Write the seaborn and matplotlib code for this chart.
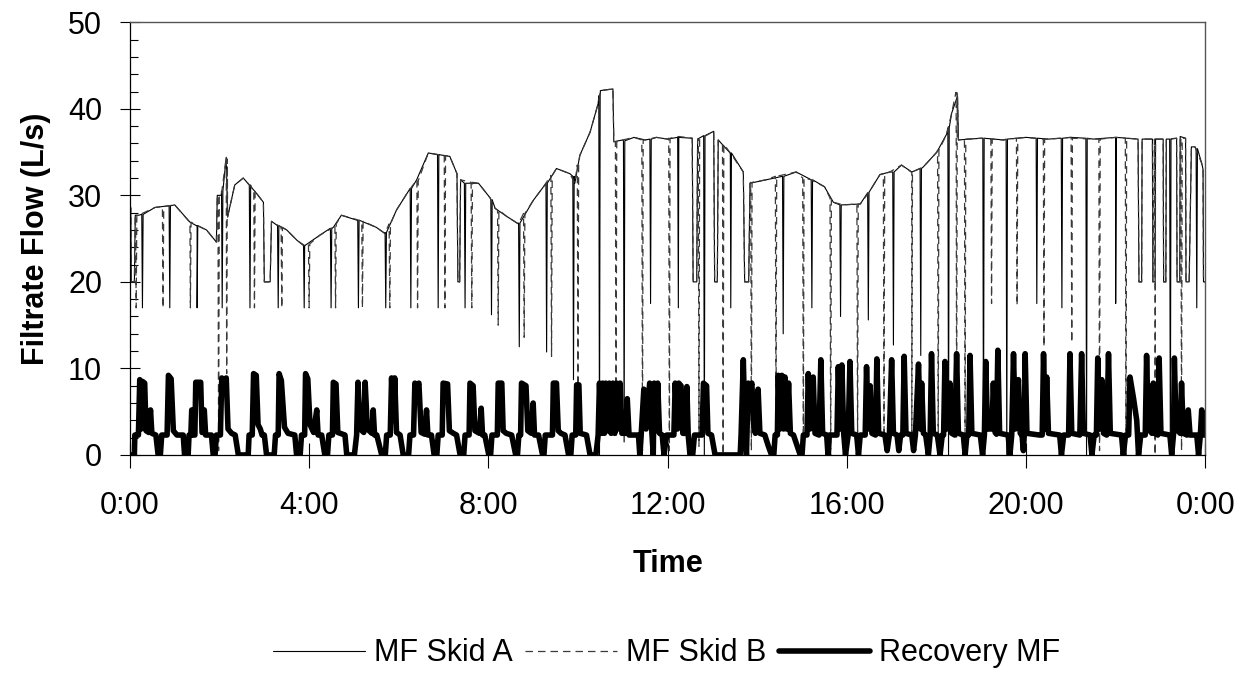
import matplotlib
matplotlib.use('Agg')
import matplotlib.pyplot as plt
from matplotlib.ticker import MultipleLocator, FixedLocator, FuncFormatter
import seaborn as sns
import pandas as pd

# hours since midnight, flow in L/s

# common filtrate curve followed by both MF skids (hour, flow)
filtrate_base = [
    (0.00, 28.9), (0.02, 28.5), (0.03, 20.0), (0.10, 20.0), (0.12, 27.7), (0.19, 27.7),
    (0.56, 28.6), (1.00, 28.9), (1.34, 26.9), (1.50, 26.5), (1.71, 26.0), (1.93, 24.6),
    (1.95, 30.0), (2.04, 30.0), (2.15, 34.4), (2.18, 27.5), (2.34, 31.2), (2.53, 32.0),
    (2.70, 31.0), (2.83, 30.2), (2.98, 29.2), (3.00, 20.0), (3.13, 20.0), (3.16, 27.0),
    (3.50, 26.0), (3.73, 24.8), (3.90, 24.2), (4.24, 25.4), (4.54, 26.3), (4.72, 27.7),
    (5.13, 27.1), (5.50, 26.3), (5.69, 25.6), (5.95, 28.3), (6.18, 30.2), (6.40, 31.8),
    (6.66, 34.9), (6.90, 34.7), (7.14, 34.5), (7.30, 32.5), (7.32, 20.0), (7.36, 20.0),
    (7.38, 31.8), (7.78, 31.4), (8.04, 29.7), (8.15, 28.5), (8.40, 27.6), (8.67, 26.7),
    (9.00, 29.4), (9.26, 31.2), (9.52, 33.1), (9.82, 32.5), (9.93, 31.4), (10.04, 34.6),
    (10.27, 37.3), (10.45, 40.6), (10.50, 42.1), (10.78, 42.3), (10.80, 36.2), (11.00, 36.4),
    (11.25, 36.7), (11.50, 36.4), (11.75, 36.7), (12.00, 36.5), (12.25, 36.8), (12.55, 36.6),
    (12.57, 20.0), (12.65, 20.0), (12.67, 36.5), (13.03, 37.4), (13.05, 20.0), (13.11, 20.0),
    (13.13, 36.4), (13.40, 34.9), (13.69, 32.7), (13.72, 20.0), (13.81, 20.0), (13.84, 31.4),
    (14.20, 31.8), (14.87, 32.7), (15.20, 31.8), (15.50, 31.0), (15.70, 29.2), (15.92, 28.9),
    (16.30, 29.0), (16.50, 30.4), (16.74, 32.4), (16.96, 32.7), (17.22, 33.5), (17.45, 32.7),
    (17.71, 33.3), (18.01, 35.0), (18.23, 37.1), (18.34, 39.5), (18.44, 41.0), (18.47, 41.5),
    (18.49, 36.4), (19.00, 36.6), (19.50, 36.4), (20.00, 36.7), (20.50, 36.5), (21.00, 36.7),
    (21.50, 36.5), (22.00, 36.7), (22.50, 36.5), (22.52, 20.0), (22.58, 20.0), (22.59, 36.5),
    (22.82, 36.5), (22.83, 20.0), (22.88, 20.0), (22.89, 36.5), (23.06, 36.5), (23.07, 20.0),
    (23.12, 20.0), (23.13, 36.5), (23.36, 36.6), (23.37, 20.0), (23.43, 20.0), (23.44, 36.8),
    (23.56, 36.6), (23.57, 20.0), (23.64, 20.0), (23.69, 35.6), (23.77, 35.6), (23.92, 33.7),
    (23.95, 33.0), (23.96, 20.0), (24.00, 20.0),
]

# backwash dips: (hour, flow before dip, lowest flow)
skid_a_drops = [
    (0.28, 27.8, 17.0), (0.89, 28.8, 17.0), (1.50, 26.5, 17.0), (2.06, 30.5, 17.0),
    (2.68, 31.2, 17.0), (3.31, 26.5, 17.0), (3.89, 24.2, 17.0), (4.49, 26.2, 17.0),
    (5.10, 27.1, 17.0), (5.71, 25.7, 17.0), (6.27, 30.8, 17.0), (6.88, 34.7, 17.0),
    (7.48, 31.4, 17.0), (8.07, 29.5, 16.2), (8.69, 26.8, 12.5), (9.30, 31.4, 11.9),
    (9.90, 32.2, 8.7), (10.48, 41.5, 0.0), (11.03, 36.3, 1.5), (11.62, 36.5, 17.5),
    (12.24, 36.7, 17.0), (12.82, 36.9, 0.0), (13.41, 34.9, 17.0), (14.58, 32.2, 14.0),
    (15.22, 31.8, 17.0), (15.86, 28.9, 16.0), (16.48, 30.3, 15.6), (17.04, 32.7, 12.7),
    (17.65, 33.1, 11.5), (18.27, 37.8, 0.0), (19.05, 36.6, 0.0), (19.57, 36.5, 0.0),
    (20.24, 36.6, 17.5), (20.80, 36.6, 17.0), (21.35, 36.6, 0.0), (22.00, 36.7, 17.5),
    (23.22, 36.5, 0.0), (23.81, 35.4, 17.0),
]

skid_b_drops = [
    (0.14, 27.7, 17.0), (0.74, 28.7, 17.0), (1.35, 26.9, 17.0), (1.98, 30.0, 0.5),
    (2.16, 34.2, 9.4), (2.78, 30.6, 17.0), (3.39, 26.3, 17.0), (4.00, 24.4, 17.0),
    (4.59, 26.7, 17.0), (5.19, 27.0, 17.0), (5.80, 26.7, 17.0), (6.42, 31.7, 17.0),
    (7.03, 34.6, 17.0), (7.63, 31.5, 17.0), (8.22, 28.3, 15.0), (8.80, 27.9, 13.6),
    (9.41, 32.3, 11.4), (10.00, 33.5, 7.9), (10.85, 36.2, 2.0), (11.44, 36.4, 0.5),
    (12.04, 36.6, 0.5), (12.70, 36.5, 1.0), (13.24, 35.9, 0.0), (13.87, 31.5, 0.5),
    (14.42, 32.2, 4.4), (15.03, 32.0, 2.0), (15.64, 29.7, 0.0), (16.24, 29.0, 2.0),
    (16.83, 32.5, 2.0), (17.45, 32.7, 2.0), (18.04, 35.2, 2.0), (18.45, 41.9, 2.0),
    (18.64, 36.5, 1.0), (19.23, 36.5, 17.5), (19.80, 36.6, 17.3), (20.40, 36.5, 12.5),
    (21.02, 36.6, 13.0), (21.64, 36.5, 0.5), (22.23, 36.6, 0.0), (22.88, 36.5, 0.0),
    (23.47, 36.6, 0.5),
]

recovery_mf = [
    (0.00, 0.0), (0.10, 0.0), (0.11, 2.3), (0.19, 2.3), (0.22, 8.7), (0.25, 3.0), (0.28, 8.5),
    (0.33, 8.3), (0.36, 2.8), (0.42, 2.6), (0.46, 5.2), (0.49, 2.5), (0.58, 2.3), (0.63, 0.0),
    (0.68, 0.0), (0.71, 2.3), (0.83, 2.3), (0.86, 9.2), (0.92, 8.8), (0.97, 2.8), (1.05, 2.3),
    (1.19, 2.3), (1.22, 0.0), (1.30, 0.0), (1.32, 2.3), (1.36, 2.3), (1.38, 5.2), (1.40, 2.3),
    (1.45, 2.3), (1.47, 8.4), (1.58, 8.4), (1.61, 2.6), (1.64, 2.6), (1.66, 5.2), (1.69, 2.3),
    (1.82, 2.3), (1.86, 0.0), (1.90, 0.0), (1.93, 2.3), (2.02, 2.3), (2.05, 8.9), (2.10, 7.5),
    (2.15, 8.9), (2.19, 3.0), (2.27, 2.5), (2.35, 2.3), (2.42, 0.0), (2.64, 0.0), (2.66, 2.3),
    (2.73, 2.3), (2.76, 9.4), (2.82, 9.2), (2.86, 3.5), (2.91, 3.0), (2.95, 2.3), (3.00, 2.3),
    (3.05, 0.0), (3.22, 0.0), (3.25, 2.3), (3.31, 2.3), (3.33, 9.4), (3.38, 8.6), (3.45, 3.2),
    (3.53, 2.5), (3.68, 2.3), (3.72, 0.0), (3.80, 0.0), (3.83, 2.3), (3.90, 2.3), (3.92, 9.4),
    (3.97, 8.8), (4.02, 3.5), (4.10, 2.6), (4.17, 5.2), (4.20, 2.3), (4.28, 2.3), (4.35, 0.0),
    (4.41, 0.0), (4.44, 2.3), (4.52, 2.3), (4.54, 8.4), (4.60, 8.2), (4.64, 2.6), (4.80, 2.3),
    (4.84, 0.0), (5.01, 0.0), (5.06, 2.3), (5.09, 8.4), (5.14, 3.0), (5.22, 2.6), (5.25, 8.4),
    (5.30, 3.0), (5.40, 2.5), (5.43, 5.2), (5.46, 2.3), (5.51, 2.3), (5.62, 0.0), (5.70, 0.0),
    (5.73, 2.3), (5.81, 2.3), (5.84, 8.9), (5.88, 4.0), (5.91, 8.9), (5.95, 2.6), (6.03, 2.3),
    (6.10, 0.0), (6.22, 0.0), (6.25, 2.3), (6.33, 2.3), (6.36, 8.3), (6.40, 7.8), (6.45, 8.3),
    (6.50, 2.6), (6.58, 2.4), (6.62, 5.2), (6.65, 2.3), (6.73, 2.3), (6.79, 0.0), (6.85, 0.0),
    (6.88, 2.3), (6.97, 2.3), (6.99, 8.3), (7.09, 8.2), (7.13, 2.8), (7.22, 2.5), (7.29, 2.3),
    (7.37, 0.0), (7.45, 0.0), (7.48, 2.3), (7.57, 2.3), (7.59, 8.3), (7.66, 8.0), (7.70, 2.8),
    (7.80, 2.5), (7.84, 5.4), (7.87, 2.3), (7.92, 2.3), (8.01, 0.0), (8.05, 0.0), (8.08, 2.3),
    (8.20, 2.3), (8.22, 8.3), (8.30, 8.3), (8.33, 2.8), (8.40, 2.5), (8.52, 2.3), (8.61, 0.0),
    (8.65, 0.0), (8.68, 2.3), (8.72, 2.3), (8.74, 8.3), (8.84, 8.0), (8.88, 2.8), (8.96, 2.5),
    (9.00, 6.0), (9.03, 2.3), (9.12, 2.3), (9.21, 0.0), (9.24, 0.0), (9.27, 2.3), (9.43, 2.3),
    (9.45, 8.3), (9.52, 8.3), (9.56, 2.8), (9.62, 2.5), (9.71, 2.3), (9.79, 0.0), (9.84, 0.0),
    (9.87, 2.3), (9.95, 2.3), (9.97, 8.1), (10.02, 8.1), (10.05, 2.5), (10.19, 2.3), (10.27, 0.0),
    (10.40, 0.0), (10.45, 2.3), (10.48, 8.3), (10.52, 2.5), (10.55, 8.3), (10.59, 2.5),
    (10.62, 8.3), (10.66, 2.8), (10.70, 8.3), (10.74, 2.5), (10.78, 8.3), (10.82, 2.5),
    (10.86, 8.3), (10.90, 3.0), (10.94, 8.3), (10.98, 2.5), (11.06, 2.5), (11.10, 6.5),
    (11.14, 2.3), (11.35, 2.3), (11.38, 0.0), (11.41, 2.3), (11.47, 7.6), (11.52, 3.0),
    (11.60, 8.3), (11.65, 2.5), (11.68, 0.0), (11.70, 8.3), (11.74, 2.8), (11.78, 8.3),
    (11.82, 2.5), (11.88, 2.3), (11.92, 0.0), (11.98, 2.3), (12.14, 2.3), (12.17, 8.3),
    (12.22, 3.0), (12.25, 8.3), (12.30, 8.0), (12.34, 2.5), (12.40, 2.5), (12.43, 7.9),
    (12.46, 2.3), (12.50, 0.0), (12.56, 0.0), (12.60, 2.3), (12.77, 2.3), (12.80, 8.3),
    (12.87, 8.0), (12.90, 2.5), (12.98, 2.3), (13.06, 0.0), (13.62, 0.0), (13.64, 2.3),
    (13.69, 11.0), (13.73, 2.5), (13.76, 0.0), (13.80, 8.3), (13.84, 7.5), (13.88, 8.3),
    (13.92, 3.5), (13.96, 2.5), (14.02, 7.6), (14.06, 2.5), (14.17, 2.3), (14.25, 1.0),
    (14.32, 0.0), (14.37, 0.0), (14.40, 2.3), (14.45, 2.3), (14.47, 9.2), (14.51, 3.0),
    (14.55, 9.2), (14.59, 3.0), (14.62, 9.0), (14.66, 3.0), (14.70, 8.3), (14.74, 2.5),
    (14.81, 2.3), (14.96, 0.0), (15.00, 0.0), (15.03, 2.3), (15.11, 2.3), (15.14, 9.4),
    (15.18, 3.0), (15.25, 9.0), (15.29, 2.5), (15.38, 2.3), (15.42, 11.0), (15.46, 2.5),
    (15.55, 2.3), (15.58, 0.0), (15.61, 2.3), (15.78, 2.3), (15.81, 10.2), (15.85, 3.0),
    (15.89, 10.4), (15.93, 2.5), (15.97, 0.0), (16.03, 2.3), (16.07, 10.8), (16.11, 2.5),
    (16.22, 2.3), (16.26, 0.0), (16.30, 2.3), (16.41, 2.3), (16.44, 10.2), (16.48, 3.0),
    (16.52, 8.0), (16.56, 2.5), (16.64, 2.3), (16.67, 11.1), (16.71, 2.5), (16.85, 2.3),
    (16.90, 0.5), (16.95, 2.3), (17.00, 11.0), (17.04, 2.5), (17.12, 2.3), (17.16, 0.5),
    (17.20, 2.3), (17.25, 2.3), (17.28, 11.4), (17.32, 2.5), (17.45, 2.3), (17.49, 0.5),
    (17.53, 2.3), (17.60, 10.5), (17.64, 3.0), (17.67, 8.3), (17.71, 2.5), (17.76, 2.3),
    (17.82, 0.0), (17.86, 2.3), (17.89, 11.7), (17.93, 2.5), (18.02, 2.3), (18.08, 0.0),
    (18.13, 2.3), (18.16, 2.3), (18.19, 10.8), (18.23, 3.0), (18.30, 8.3), (18.34, 2.5),
    (18.41, 2.3), (18.45, 11.7), (18.49, 2.5), (18.60, 2.3), (18.64, 0.0), (18.68, 2.3),
    (18.72, 2.3), (18.75, 11.5), (18.79, 2.5), (18.98, 2.3), (19.03, 0.0), (19.07, 2.3),
    (19.10, 10.8), (19.14, 3.0), (19.24, 3.0), (19.27, 8.3), (19.31, 2.6), (19.34, 2.4),
    (19.37, 12.1), (19.41, 2.5), (19.60, 2.3), (19.64, 0.0), (19.68, 2.3), (19.72, 11.7),
    (19.76, 3.0), (19.83, 8.7), (19.87, 2.5), (19.91, 2.3), (19.94, 0.5), (19.96, 2.3),
    (19.98, 11.7), (20.02, 2.5), (20.30, 2.3), (20.36, 2.3), (20.39, 11.7), (20.43, 3.0),
    (20.46, 9.0), (20.50, 2.5), (20.75, 2.3), (20.79, 0.0), (20.84, 2.3), (20.95, 2.3),
    (20.98, 11.7), (21.02, 2.5), (21.20, 2.3), (21.24, 11.7), (21.28, 2.5), (21.43, 2.3),
    (21.47, 0.0), (21.52, 2.3), (21.57, 2.3), (21.60, 11.2), (21.64, 3.0), (21.69, 8.7),
    (21.73, 2.5), (21.80, 2.3), (21.84, 11.7), (21.88, 2.5), (22.13, 2.3), (22.17, 0.0),
    (22.22, 2.3), (22.29, 2.3), (22.32, 9.0), (22.40, 6.5), (22.47, 4.0), (22.51, 0.0),
    (22.56, 2.3), (22.66, 2.3), (22.69, 11.5), (22.73, 3.0), (22.81, 2.5), (22.84, 8.3),
    (22.88, 2.5), (22.94, 2.3), (22.97, 11.2), (23.01, 2.5), (23.21, 2.3), (23.25, 0.0),
    (23.29, 2.3), (23.31, 11.2), (23.35, 3.0), (23.44, 2.5), (23.47, 8.3), (23.51, 2.5),
    (23.59, 2.3), (23.62, 5.2), (23.66, 2.3), (23.81, 2.3), (23.85, 0.0), (23.89, 2.3),
    (23.92, 5.2), (23.96, 2.3), (24.00, 2.3),
]

hour_ticks = [0, 4, 8, 12, 16, 20, 24]


def skid_frame(drops, half_width=0.015):
    pts = list(filtrate_base)
    for hour, level, low in drops:
        pts += [(hour - half_width, level), (hour, low), (hour + half_width, level)]
    pts = sorted(pts, key=lambda p: p[0])
    return pd.DataFrame(pts, columns=['hours', 'flow'])


df_a = skid_frame(skid_a_drops)
df_b = skid_frame(skid_b_drops)
df_rec = pd.DataFrame(sorted(recovery_mf, key=lambda p: p[0]), columns=['hours', 'flow'])

sns.set_style('ticks')
plt.rcParams['font.family'] = ['Liberation Sans', 'DejaVu Sans']
plt.rcParams['text.color'] = 'black'
plt.rcParams['axes.labelcolor'] = 'black'
plt.rcParams['xtick.color'] = 'black'
plt.rcParams['ytick.color'] = 'black'

fig, ax = plt.subplots(figsize=(12.49, 6.75), dpi=100)
fig.subplots_adjust(left=0.104, right=0.965, top=0.967, bottom=0.326)

sns.lineplot(data=df_a, x='hours', y='flow', estimator=None, sort=False,
             color='black', linewidth=0.8, label='MF Skid A', ax=ax)
sns.lineplot(data=df_b, x='hours', y='flow', estimator=None, sort=False,
             color='#3a3a3a', linewidth=0.9, linestyle=(0, (6, 4)), label='MF Skid B', ax=ax)
sns.lineplot(data=df_rec, x='hours', y='flow', estimator=None, sort=False,
             color='black', linewidth=4.0, label='Recovery MF', ax=ax)

ax.set_xlim(0, 24)
ax.set_ylim(0, 50)
ax.xaxis.set_major_locator(FixedLocator(hour_ticks))
ax.xaxis.set_major_formatter(FuncFormatter(lambda v, p: f"{int(round(v)) % 24}:00"))
ax.yaxis.set_major_locator(MultipleLocator(10))
ax.yaxis.set_minor_locator(MultipleLocator(2))

ax.tick_params(axis='x', which='major', direction='inout', length=18, width=0.8,
               labelsize=22, pad=17, colors='black')
ax.tick_params(axis='y', which='major', direction='inout', length=14, width=0.8,
               labelsize=22, pad=13, colors='black')
ax.tick_params(axis='y', which='minor', direction='in', length=6, width=0.8, colors='black')

for side in ['top', 'right']:
    ax.spines[side].set_color('#555555')
    ax.spines[side].set_linewidth(1.0)
for side in ['left', 'bottom']:
    ax.spines[side].set_color('black')
    ax.spines[side].set_linewidth(0.9)

ax.set_xlabel('Time', fontsize=22, fontweight='bold', labelpad=20, color='black')
ax.set_ylabel('Filtrate Flow (L/s)', fontsize=22, fontweight='bold', labelpad=12, color='black')

handles, labels = ax.get_legend_handles_labels()
if ax.get_legend() is not None:
    ax.get_legend().remove()
leg = fig.legend(handles, labels, loc='center', bbox_to_anchor=(667 / 1249, 0.032), ncol=3,
                 frameon=False, fontsize=22, handlelength=3.0, handletextpad=0.3,
                 columnspacing=0.4)
for txt in leg.get_texts():
    txt.set_color('black')

fig.savefig('out.png', dpi=100)
plt.close(fig)
